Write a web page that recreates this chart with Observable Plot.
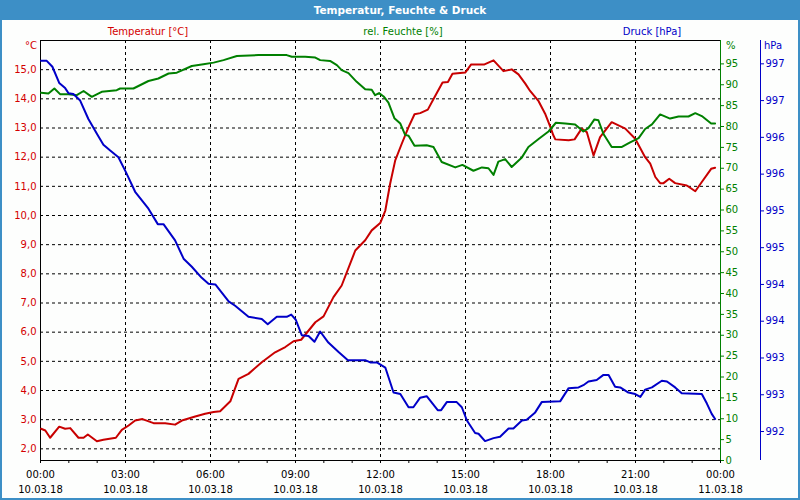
<!DOCTYPE html>
<html>
<head>
<meta charset="utf-8">
<script src="https://cdn.jsdelivr.net/npm/d3@7"></script>
<script src="https://cdn.jsdelivr.net/npm/@observablehq/plot@0.6"></script>
<style>
  html, body { margin: 0; padding: 0; background: #fff; }
  #wrap { position: relative; width: 800px; height: 500px; background: #fdfefd; overflow: hidden; font-family: "DejaVu Sans", sans-serif; }
  #title { position: absolute; left: 0; top: 0; width: 800px; height: 20px; background: #3d8fc6; color: #fff; font: bold 10.5px "DejaVu Sans", sans-serif; text-align: center; line-height: 20px; }
  .lbl { position: absolute; font-size: 10px; line-height: 12px; white-space: nowrap; }
  .layer { position: absolute; left: 0; top: 20px; }
  .bd { position: absolute; background: #3d8fc6; }
</style>
</head>
<body>
<div id="wrap">
  <div id="title">Temperatur, Feuchte &amp; Druck</div>
  <div id="p1" class="layer"></div>
  <div id="p2" class="layer"></div>
  <div id="p3" class="layer"></div>
  <div class="lbl" style="left:98px;width:100px;text-align:center;top:26px;color:#d40000">Temperatur [°C]</div>
  <div class="lbl" style="left:343px;width:120px;text-align:center;top:26px;color:#008000">rel. Feuchte [%]</div>
  <div class="lbl" style="left:602px;width:100px;text-align:center;top:26px;color:#0000c8">Druck [hPa]</div>
  <div class="lbl" style="left:0px;width:37px;text-align:right;top:40px;color:#d40000">°C</div>
  <div class="lbl" style="left:726px;top:40px;color:#008000">%</div>
  <div class="lbl" style="left:764px;top:40px;color:#0000c8">hPa</div>
  <div class="bd" style="left:0;top:0;width:2px;height:500px"></div>
  <div class="bd" style="right:0;top:0;width:2px;height:500px"></div>
  <div class="bd" style="left:0;bottom:0;width:800px;height:2px"></div>
</div>
<script>
// ---- axis ticks / labels ----
const xTicks = [0, 3, 6, 9, 12, 15, 18, 21, 24];
const xTimes = ["00:00", "03:00", "06:00", "09:00", "12:00", "15:00", "18:00", "21:00", "00:00"];
const xDates = ["10.03.18", "10.03.18", "10.03.18", "10.03.18", "10.03.18", "10.03.18", "10.03.18", "10.03.18", "11.03.18"];
const hourTicks = d3.range(0, 25);
const tempTicks = [2, 3, 4, 5, 6, 7, 8, 9, 10, 11, 12, 13, 14, 15];
const humTicks = [0, 5, 10, 15, 20, 25, 30, 35, 40, 45, 50, 55, 60, 65, 70, 75, 80, 85, 90, 95];
const pressTicks = [992, 992.5, 993, 993.5, 994, 994.5, 995, 995.5, 996, 996.5, 997];
const pressLabels = ["992", "993", "993", "994", "994", "995", "995", "996", "996", "997", "997"];

// ---- series (hours since 10.03.18 00:00) ----
const tempHours = [0.02,0.17,0.34,0.66,0.87,1.05,1.34,1.52,1.67,1.99,2.22,2.66,2.87,3.11,3.34,3.60,3.99,4.40,4.75,4.99,5.46,5.81,6.11,6.34,6.70,6.99,7.34,7.81,8.28,8.64,8.93,9.20,9.70,9.99,10.34,10.63,11.11,11.46,11.69,11.99,12.17,12.34,12.52,12.75,12.99,13.20,13.40,13.67,13.91,14.19,14.38,14.54,14.99,15.20,15.67,15.99,16.34,16.63,16.87,17.11,17.28,17.58,17.81,17.99,18.10,18.17,18.64,18.85,19.10,19.28,19.52,19.75,20.16,20.64,20.99,21.34,21.52,21.70,21.87,21.99,22.19,22.40,22.81,23.11,23.34,23.67,23.81];
const tempValues = [2.69,2.63,2.38,2.76,2.69,2.71,2.38,2.38,2.49,2.26,2.31,2.38,2.65,2.80,2.97,3.02,2.88,2.88,2.83,2.97,3.11,3.20,3.26,3.29,3.63,4.40,4.57,4.97,5.31,5.49,5.69,5.74,6.34,6.54,7.20,7.60,8.80,9.15,9.49,9.74,10.17,11.09,11.89,12.46,13.03,13.47,13.51,13.63,14.06,14.56,14.58,14.86,14.90,15.18,15.18,15.32,14.95,15.01,14.84,14.52,14.27,13.92,13.49,13.05,12.75,12.61,12.58,12.61,12.98,12.86,12.06,12.69,13.20,12.98,12.63,12.00,11.78,11.32,11.11,11.11,11.26,11.11,11.03,10.83,11.15,11.60,11.64];

const humHours = [0.02,0.28,0.49,0.70,0.99,1.28,1.52,1.81,2.16,2.69,2.81,3.28,3.81,4.16,4.52,4.81,5.34,5.75,6.11,6.46,6.93,7.69,8.69,8.87,9.34,9.70,9.87,10.22,10.46,10.63,10.87,11.16,11.46,11.69,11.81,11.95,12.11,12.28,12.49,12.70,12.87,12.99,13.20,13.63,13.87,14.16,14.64,14.89,15.28,15.58,15.81,15.99,16.16,16.40,16.63,16.99,17.22,17.58,17.87,17.93,18.19,18.52,18.87,19.16,19.34,19.55,19.69,19.87,20.16,20.52,20.81,21.11,21.34,21.58,21.87,22.22,22.52,22.87,23.11,23.34,23.67,23.81];
const humValues = [88.1,87.9,89.1,87.7,87.7,87.5,88.5,87.1,88.3,88.7,89.1,89.1,90.9,91.5,92.7,92.9,94.5,94.9,95.3,95.9,96.9,97.1,97.1,96.7,96.7,96.5,95.9,95.7,94.7,93.5,92.8,90.7,88.9,88.8,87.5,88.0,87.2,85.7,82.0,80.7,78.0,77.8,75.4,75.5,75.1,71.5,70.2,70.8,69.4,70.2,70.0,68.4,71.6,72.2,70.3,72.6,75.1,77.0,78.5,78.8,80.9,80.7,80.5,78.8,79.6,81.7,81.5,78.2,75.1,75.1,76.2,77.2,79.4,80.5,82.9,81.9,82.4,82.4,83.2,82.5,80.7,80.7];

const pressHours = [0.02,0.22,0.42,0.66,0.87,0.99,1.16,1.40,1.69,1.99,2.22,2.46,2.75,3.01,3.34,3.81,4.14,4.34,4.75,5.05,5.34,5.69,5.93,6.17,6.64,6.87,7.34,7.81,8.02,8.34,8.69,8.85,9.01,9.22,9.46,9.67,9.87,10.16,10.52,10.85,11.46,11.64,11.87,12.17,12.46,12.70,12.99,13.16,13.40,13.63,14.02,14.14,14.34,14.69,14.87,15.05,15.34,15.46,15.69,15.99,16.22,16.52,16.69,16.99,17.16,17.46,17.69,18.34,18.64,18.99,19.16,19.34,19.63,19.87,20.05,20.28,20.46,20.75,20.99,21.17,21.34,21.58,21.93,22.11,22.40,22.63,23.34,23.52,23.69,23.81];
const pressValues = [997.04,997.04,996.96,996.74,996.67,996.60,996.59,996.50,996.25,996.05,995.90,995.82,995.73,995.53,995.26,995.03,994.82,994.82,994.60,994.35,994.24,994.09,994.01,994.00,993.77,993.71,993.56,993.53,993.46,993.56,993.56,993.59,993.52,993.31,993.30,993.22,993.36,993.21,993.08,992.97,992.97,992.94,992.94,992.87,992.53,992.51,992.33,992.33,992.46,992.48,992.29,992.29,992.40,992.40,992.33,992.15,991.98,991.97,991.87,991.91,991.93,992.04,992.04,992.15,992.16,992.26,992.40,992.41,992.59,992.60,992.63,992.68,992.70,992.77,992.77,992.61,992.60,992.53,992.51,992.47,992.57,992.60,992.69,992.68,992.60,992.52,992.51,992.38,992.24,992.17];

// ---- colours ----
const RED_TXT = "#d40000", RED = "#c80000";
const GREEN = "#008000";
const BLUE_TXT = "#0000c8", BLUE = "#0000c8";

const temp = tempHours.map((h, i) => ({h, v: tempValues[i]}));
const hum = humHours.map((h, i) => ({h, v: humValues[i]}));
const press = pressHours.map((h, i) => ({h, v: pressValues[i]}));

const common = {
  width: 800, height: 480,
  marginTop: 20, marginBottom: 40, marginLeft: 40, marginRight: 80,
  x: {domain: [0, 24], axis: null, label: null},
  style: {background: "transparent", fontFamily: "DejaVu Sans, sans-serif", fontSize: "10px", overflow: "visible"}
};

const p1 = Plot.plot({
  ...common,
  y: {domain: [1.6, 16.0], axis: null, label: null},
  marks: [
    Plot.gridY(tempTicks, {stroke: "#000", strokeOpacity: 1, strokeDasharray: "3,3"}),
    Plot.gridX(xTicks, {stroke: "#000", strokeOpacity: 1, strokeDasharray: "3,3"}),
    Plot.frame({stroke: "#000"}),
    Plot.axisX(hourTicks, {anchor: "bottom", label: null, tickSize: 3, tickFormat: () => "", stroke: "#000"}),
    Plot.axisX(xTicks, {anchor: "bottom", label: null, tickSize: 0, tickPadding: 7, lineHeight: 1.5, fill: "#000",
      tickFormat: d => xTimes[xTicks.indexOf(d)] + "\n" + xDates[xTicks.indexOf(d)]}),
    Plot.axisY(tempTicks, {anchor: "left", label: null, tickSize: 0, tickPadding: 4, fill: RED_TXT,
      tickFormat: d => d.toFixed(1).replace(".", ",")}),
    Plot.line(temp, {x: "h", y: "v", stroke: RED, strokeWidth: 2})
  ]
});
document.getElementById("p1").append(p1);

const p2 = Plot.plot({
  ...common,
  y: {domain: [0, 100.6], axis: null, label: null},
  marks: [
    Plot.ruleX([24], {stroke: GREEN}),
    Plot.axisY(humTicks, {anchor: "right", label: null, tickSize: 3, tickPadding: 2, fill: GREEN, stroke: GREEN}),
    Plot.line(hum, {x: "h", y: "v", stroke: GREEN, strokeWidth: 2})
  ]
});
document.getElementById("p2").append(p2);

const p3 = Plot.plot({
  ...common,
  y: {domain: [991.606, 997.317], axis: null, label: null},
  marks: [
    Plot.ruleX([24], {stroke: BLUE, dx: 40}),
    Plot.axisY(pressTicks, {anchor: "right", label: null, dx: 40, tickSize: 3, tickPadding: 2, fill: BLUE_TXT, stroke: BLUE,
      tickFormat: d => pressLabels[pressTicks.indexOf(d)]}),
    Plot.line(press, {x: "h", y: "v", stroke: BLUE, strokeWidth: 2})
  ]
});
document.getElementById("p3").append(p3);
</script>
</body>
</html>
